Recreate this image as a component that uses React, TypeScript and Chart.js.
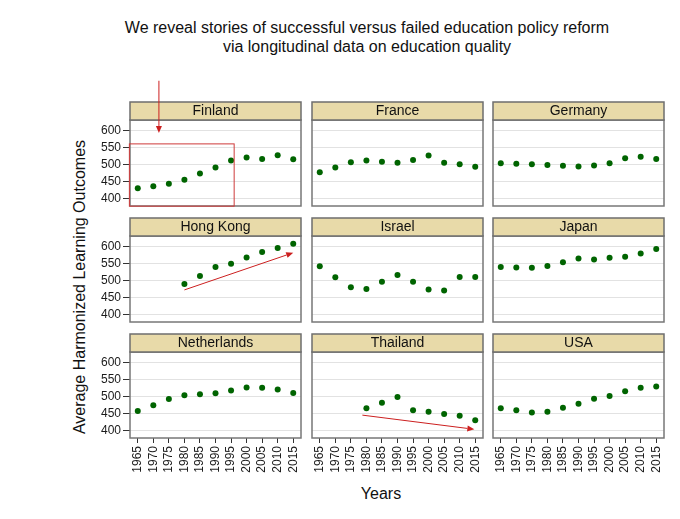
import React, { useEffect, useRef } from "react";
import { Chart, registerables } from "chart.js";

Chart.register(...registerables);
Chart.defaults.font.family = '"Liberation Sans", Arial, sans-serif';

// ---------- data ----------
const years = [1965, 1970, 1975, 1980, 1985, 1990, 1995, 2000, 2005, 2010, 2015];
const yTickValues = [400, 450, 500, 550, 600];
const countries = ["Finland", "France", "Germany", "Hong Kong", "Israel", "Japan", "Netherlands", "Thailand", "USA"];

const finland = [430, 436, 443, 455, 473, 491, 511, 520, 516, 527, 515];
const france = [477, 491, 506, 511, 508, 505, 513, 526, 505, 500, 493];
const germany = [503, 502, 500, 498, 496, 494, 497, 503, 518, 522, 516];
const hongKong = [null, null, null, 489, 513, 539, 549, 567, 583, 595, 607];
const israel = [541, 509, 480, 475, 496, 516, 496, 473, 470, 510, 510];
const japan = [539, 538, 537, 542, 553, 564, 561, 566, 569, 579, 592];
const netherlands = [457, 474, 492, 503, 506, 509, 517, 526, 525, 520, 510];
const thailand = [null, null, null, 465, 481, 498, 459, 455, 448, 443, 430];
const usa = [465, 459, 453, 455, 467, 478, 493, 501, 515, 525, 529];

const seriesValues = [finland, france, germany, hongKong, israel, japan, netherlands, thailand, usa];

// annotations in data units [x, y]
const finlandBox = [[1962.3, 560], [1996, 377.5]];
const finlandArrow = [[1971.8, 745], [1971.8, 592]];
const hongKongArrow = [[1980, 472], [2015, 581]];
const thailandArrow = [[1978.7, 445], [2014.7, 403.5]];

const X_MIN = 1962.5;
const X_MAX = 2017.5;
const Y_MIN = 378;
const Y_MAX = 630;

// ---------- layout ----------
const COL_LEFT = [130, 312, 493];
const ROW_STRIP_TOP = [102, 218, 334];
const PLOT_W = 171;
const PLOT_H = 86;
const STRIP_H = 18;
const AXIS_W = 50;
const RIGHT_PAD = 20;
const EXTRA_TOP = 30;
const X_AXIS_H = 45;
const FONT = '"Liberation Sans", Arial, sans-serif';

function arrow(ctx: CanvasRenderingContext2D, x1: number, y1: number, x2: number, y2: number) {
  const ang = Math.atan2(y2 - y1, x2 - x1);
  const len = 7;
  const hw = 3;
  const bx = x2 - len * Math.cos(ang);
  const by = y2 - len * Math.sin(ang);
  ctx.beginPath();
  ctx.moveTo(x1, y1);
  ctx.lineTo(bx, by);
  ctx.stroke();
  ctx.beginPath();
  ctx.moveTo(x2, y2);
  ctx.lineTo(bx + hw * Math.sin(ang), by - hw * Math.cos(ang));
  ctx.lineTo(bx - hw * Math.sin(ang), by + hw * Math.cos(ang));
  ctx.closePath();
  ctx.fill();
}

const panelPlugin = {
  id: "panelDecor",
  afterDraw(chart: any) {
    const { ctx, chartArea, scales } = chart;
    const name = chart.options.plugins.panelDecor.name as string;
    const { left, top, right, bottom } = chartArea;
    const w = right - left;
    ctx.save();
    // border
    ctx.strokeStyle = "#777777";
    ctx.lineWidth = 1.5;
    ctx.strokeRect(left, top, w, bottom - top);
    // strip
    ctx.fillStyle = "#E8DAA9";
    ctx.fillRect(left, top - STRIP_H, w, STRIP_H);
    ctx.strokeStyle = "#6e6e6e";
    ctx.strokeRect(left, top - STRIP_H, w, STRIP_H);
    ctx.fillStyle = "#111111";
    ctx.font = `14px ${FONT}`;
    ctx.textAlign = "center";
    ctx.textBaseline = "middle";
    ctx.fillText(name, left + w / 2, top - STRIP_H / 2 + 0.5);

    // annotations
    const xs = scales.x;
    const ys = scales.y;
    const px = (p: number[]) => [xs.getPixelForValue(p[0]), ys.getPixelForValue(p[1])];
    ctx.strokeStyle = "#cc1f1f";
    ctx.fillStyle = "#cc1f1f";
    ctx.lineWidth = 1;
    const drawArrow = (a: number[][]) => {
      const [x1, y1] = px(a[0]);
      const [x2, y2] = px(a[1]);
      arrow(ctx, x1, y1, x2, y2);
    };
    if (name === "Finland") {
      const [bx1, by1] = px(finlandBox[0]);
      const [bx2, by2] = px(finlandBox[1]);
      ctx.strokeStyle = "#cf3a3a";
      ctx.strokeRect(bx1, by1, bx2 - bx1, by2 - by1);
      ctx.strokeStyle = "#cc1f1f";
      drawArrow(finlandArrow);
    }
    if (name === "Hong Kong") drawArrow(hongKongArrow);
    if (name === "Thailand") drawArrow(thailandArrow);
    ctx.restore();
  },
};

function Panel({ index }: { index: number }) {
  const ref = useRef<HTMLCanvasElement>(null);
  const row = Math.floor(index / 3);
  const col = index % 3;
  const W = AXIS_W + PLOT_W + RIGHT_PAD;
  const H = EXTRA_TOP + STRIP_H + PLOT_H + X_AXIS_H;
  const leftPos = COL_LEFT[col] - AXIS_W;
  const topPos = ROW_STRIP_TOP[row] - EXTRA_TOP;

  useEffect(() => {
    const vals = seriesValues[index];
    const data = years
      .map((yr, i) => ({ x: yr, y: vals[i] }))
      .filter((p) => p.y !== null && p.y !== undefined);
    const chart = new Chart(ref.current as HTMLCanvasElement, {
      type: "scatter",
      data: {
        datasets: [
          {
            data: data as any,
            pointRadius: 3,
            pointBackgroundColor: "#006400",
            pointBorderWidth: 0,
            backgroundColor: "#006400",
            borderColor: "#006400",
          },
        ],
      },
      plugins: [panelPlugin],
      options: {
        animation: false,
        responsive: false,
        devicePixelRatio: 1,
        layout: { padding: { top: EXTRA_TOP + STRIP_H, right: RIGHT_PAD, left: 0, bottom: 0 } },
        plugins: {
          legend: { display: false },
          tooltip: { enabled: false },
          panelDecor: { name: countries[index] },
        } as any,
        scales: {
          x: {
            type: "linear",
            min: X_MIN,
            max: X_MAX,
            afterBuildTicks: (s: any) => {
              s.ticks = years.map((v) => ({ value: v }));
            },
            afterFit: (s: any) => {
              s.height = X_AXIS_H;
            },
            ticks: {
              display: row === 2,
              autoSkip: false,
              minRotation: 90,
              maxRotation: 90,
              padding: 3,
              color: "#1a1a1a",
              font: { size: 12, family: FONT },
              callback: (v: any) => String(v),
            },
            grid: {
              drawOnChartArea: false,
              drawTicks: row === 2,
              tickLength: 5,
              tickColor: "#333333",
            },
            border: { display: false },
          },
          y: {
            type: "linear",
            min: Y_MIN,
            max: Y_MAX,
            afterBuildTicks: (s: any) => {
              s.ticks = yTickValues.map((v) => ({ value: v }));
            },
            afterFit: (s: any) => {
              s.width = AXIS_W;
            },
            ticks: {
              display: col === 0,
              padding: 2,
              color: "#1a1a1a",
              font: { size: 12, family: FONT },
              callback: (v: any) => String(v),
            },
            grid: {
              color: "#e2e2e2",
              lineWidth: 1,
              drawTicks: col === 0,
              tickLength: 7,
              tickColor: "#333333",
            },
            border: { display: false },
          },
        },
      } as any,
    });
    return () => chart.destroy();
  }, []);

  return (
    <canvas
      ref={ref}
      width={W}
      height={H}
      style={{ position: "absolute", left: leftPos, top: topPos, width: W, height: H }}
    />
  );
}

export default function App() {
  return (
    <div
      style={{
        position: "absolute",
        left: 0,
        top: 0,
        width: 680,
        height: 519,
        background: "#ffffff",
        overflow: "hidden",
        fontFamily: FONT,
        color: "#111",
      }}
    >
      <div
        style={{
          position: "absolute",
          left: 0,
          top: 18,
          width: 734,
          textAlign: "center",
          fontSize: 16,
          lineHeight: "19px",
          whiteSpace: "nowrap",
        }}
      >
        <div>We reveal stories of successful versus failed education policy reform</div>
        <div>via longitudinal data on education quality</div>
      </div>
      <div
        style={{
          position: "absolute",
          left: 80,
          top: 287,
          fontSize: 16,
          whiteSpace: "nowrap",
          transform: "translate(-50%, -50%) rotate(-90deg)",
        }}
      >
        Average Harmonized Learning Outcomes
      </div>
      <div
        style={{
          position: "absolute",
          left: 381,
          top: 494,
          fontSize: 16,
          whiteSpace: "nowrap",
          transform: "translate(-50%, -50%)",
        }}
      >
        Years
      </div>
      {countries.map((c, i) => (
        <Panel key={c} index={i} />
      ))}
    </div>
  );
}
